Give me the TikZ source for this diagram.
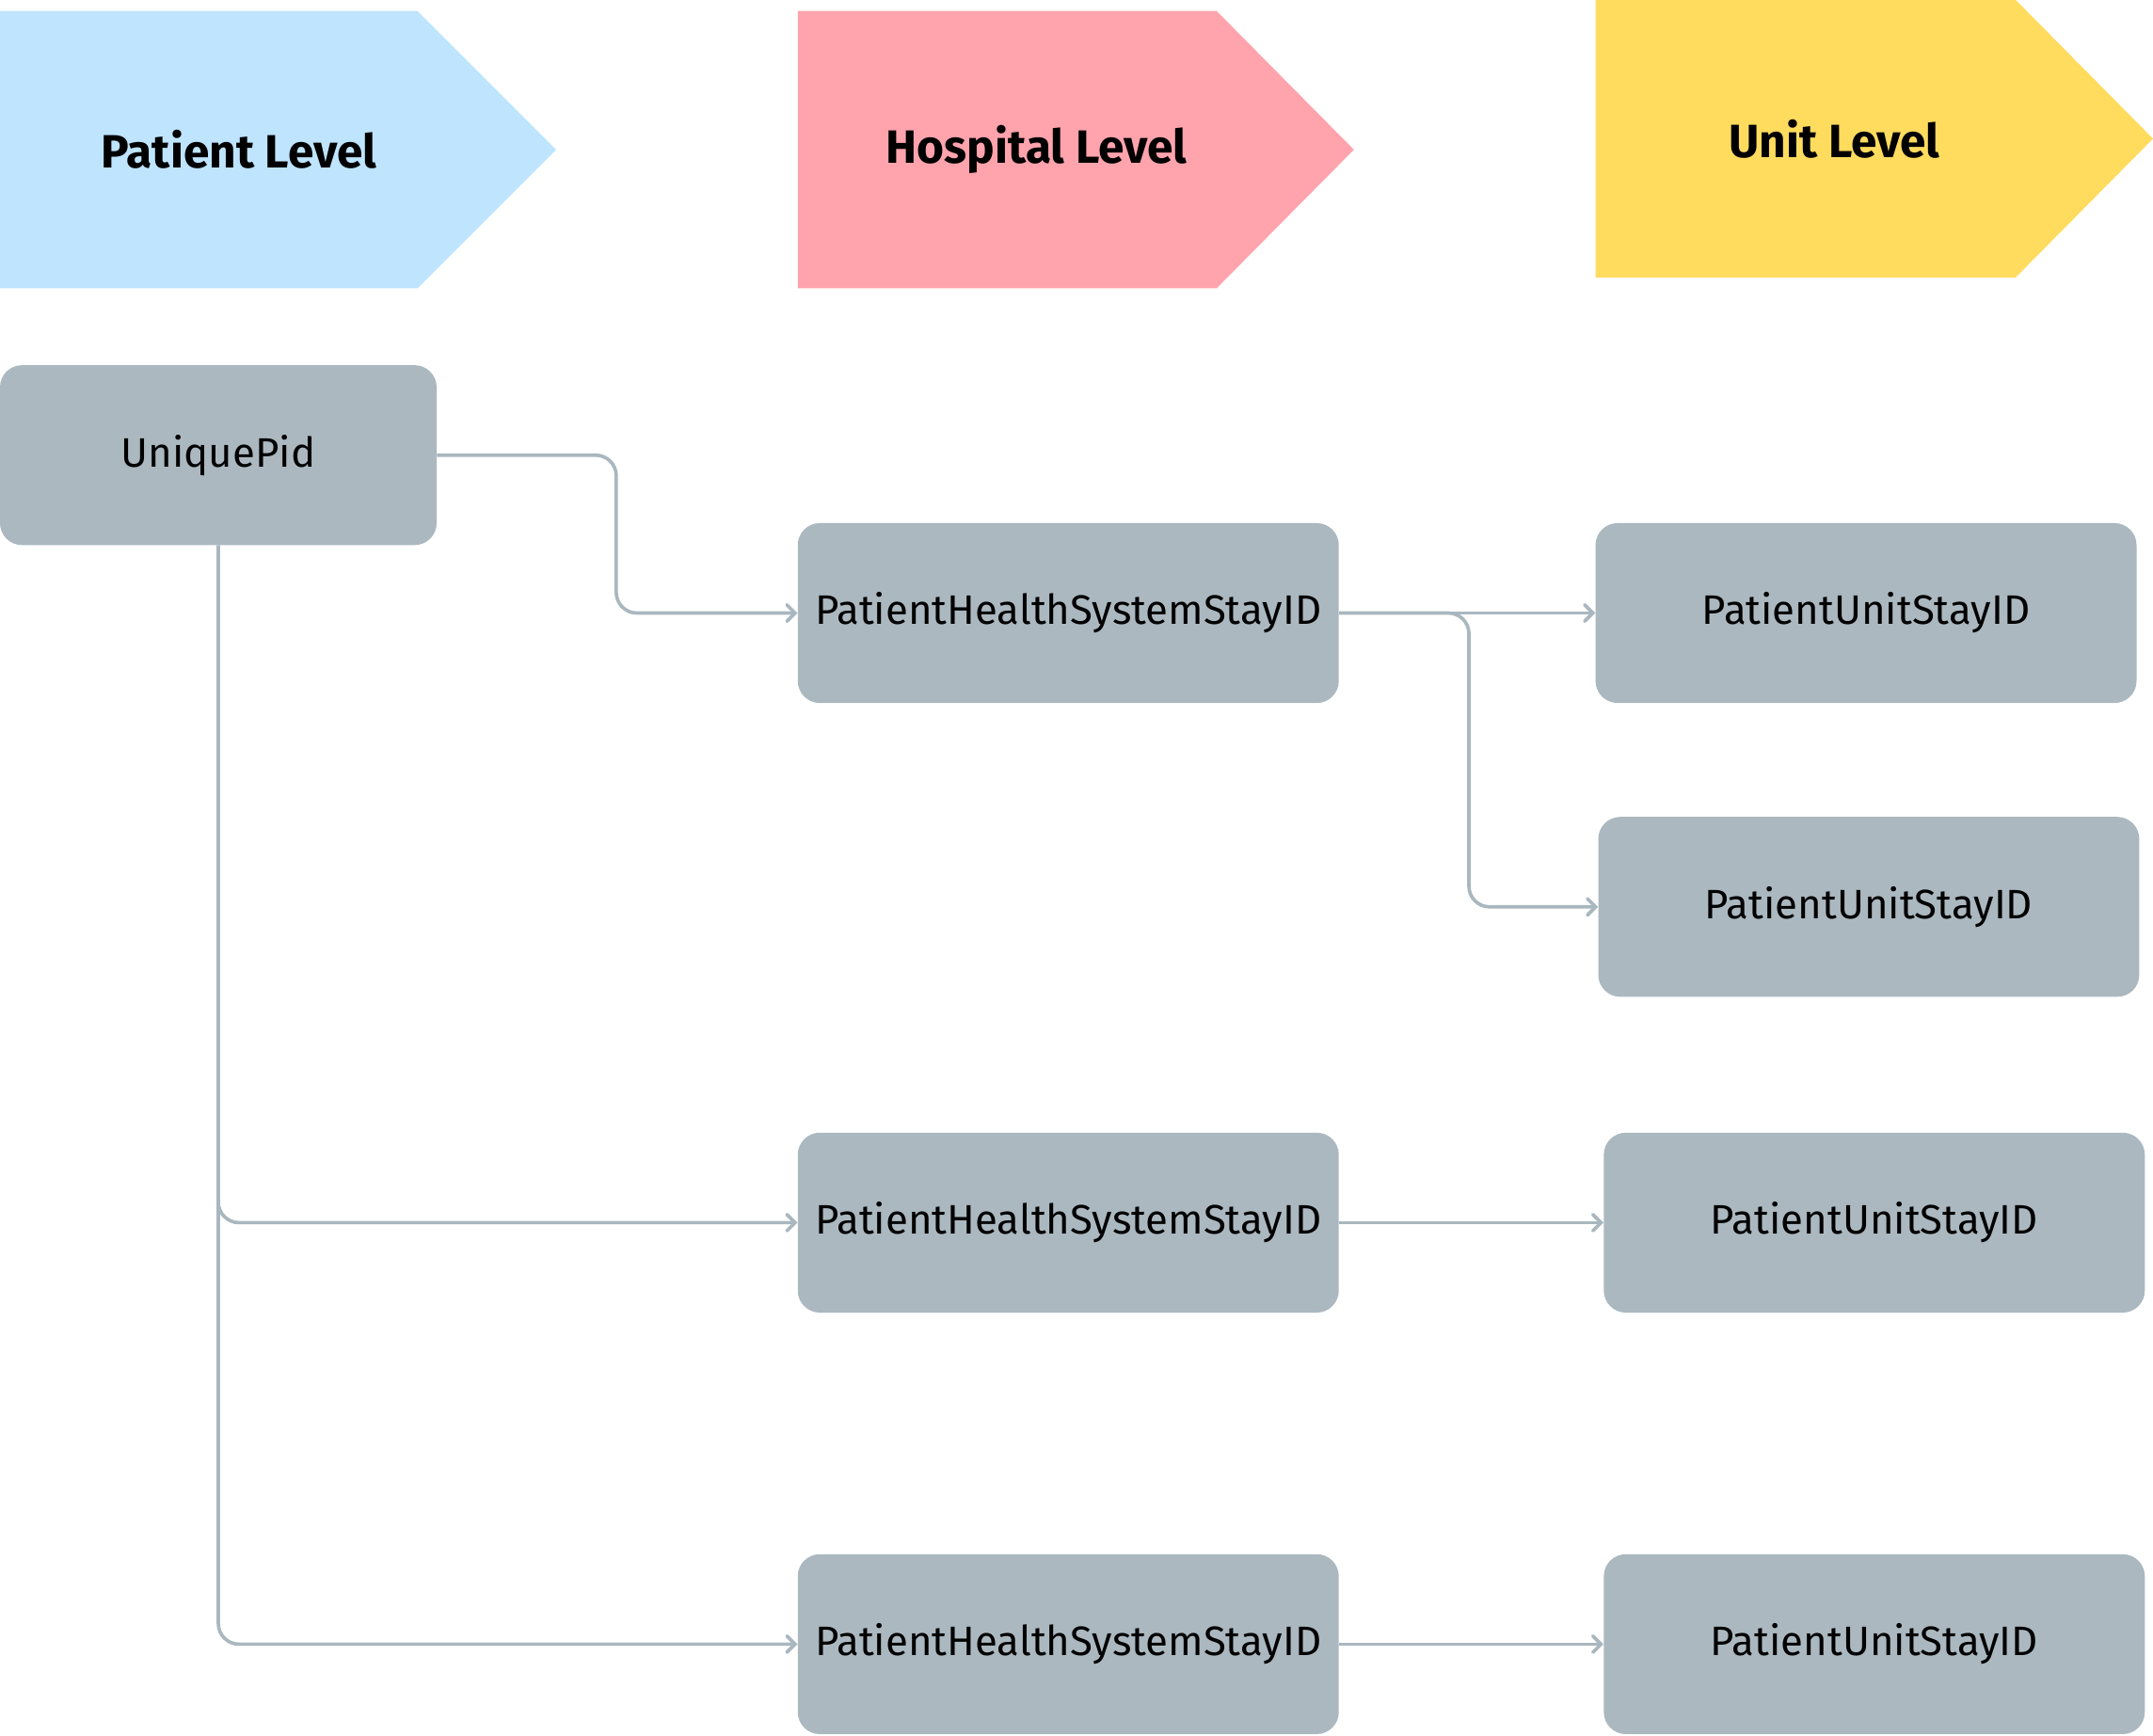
\documentclass[tikz,border=0pt]{standalone}
\usepackage{fontspec}
\setmainfont{Fira Sans}
\usetikzlibrary{arrows.meta,calc}
\definecolor{boxgray}{HTML}{ABB8C0}
\definecolor{linegray}{HTML}{A9B7BF}
\definecolor{lvlblue}{HTML}{BEE4FE}
\definecolor{lvlpink}{HTML}{FFA3AD}
\definecolor{lvlyellow}{HTML}{FFDB5E}
\tikzset{
  idbox/.style={fill=boxgray, draw=none, rounded corners=16pt, minimum width=394pt, minimum height=131pt, inner sep=0pt, font=\fontsize{30}{34}\selectfont, text=black},
  lvltext/.style={font=\fontsize{34}{38}\selectfont\bfseries, text=black, inner sep=0pt},
  conn/.style={draw=linegray, line width=2.5pt, rounded corners=15pt, -{Straight Barb[length=6pt,width=12pt,line cap=round]}},
  trunk/.style={draw=linegray, line width=2.5pt, rounded corners=15pt}
}
\begin{document}
\begin{tikzpicture}[x=1pt,y=-1pt]
\useasboundingbox (0,0) rectangle (1568,1264);
% level banners
\fill[lvlblue] (0,8) -- (304,8) -- (405,109) -- (304,210) -- (0,210) -- cycle;
\fill[lvlpink] (581,8) -- (886,8) -- (986,109) -- (886,210) -- (581,210) -- cycle;
\fill[lvlyellow] (1162,0) -- (1468,0) -- (1568,101) -- (1468,202) -- (1162,202) -- cycle;
\node[lvltext] (lp) at (174,109) {Patient Level};
\node[lvltext] (lh) at (755,109) {Hospital Level};
\node[lvltext] (lu) at (1336,101) {Unit Level};
% id boxes
\node[idbox, minimum width=318pt] (up) at (159,331.5) {UniquePid};
\node[idbox] (h1) at (778,446.5) {PatientHealthSystemStayID};
\node[idbox] (h2) at (778,890.5) {PatientHealthSystemStayID};
\node[idbox] (h3) at (778,1197.5) {PatientHealthSystemStayID};
\node[idbox] (u1) at (1359,446.5) {PatientUnitStayID};
\node[idbox] (u2) at (1361,660.5) {PatientUnitStayID};
\node[idbox] (u3) at (1365,890.5) {PatientUnitStayID};
\node[idbox] (u4) at (1365,1197.5) {PatientUnitStayID};
% connectors
\draw[conn] (up.east) -| ([xshift=-132pt]h1.west) -- (h1.west);
\draw[conn] (up.south) |- (h3.west);
\draw[conn] (up.south) |- (h2.west);
\draw[conn] (h1.east) -- (u1.west);
\draw[conn] (h1.east) -| ([xshift=-94pt]u2.west) -- (u2.west);
\draw[conn] (h2.east) -- (u3.west);
\draw[conn] (h3.east) -- (u4.west);
\end{tikzpicture}
\end{document}
